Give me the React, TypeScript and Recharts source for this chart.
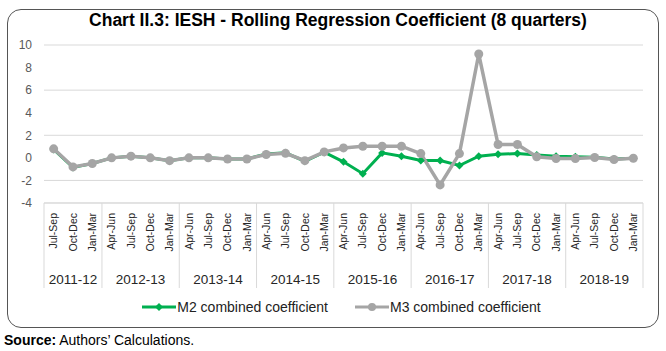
import React from "react";
import { ComposedChart, Line, XAxis, YAxis, CartesianGrid, Legend } from "recharts";

const years = ["2011-12", "2012-13", "2013-14", "2014-15", "2015-16", "2016-17", "2017-18", "2018-19"];
const yearQuarters = [
  ["Jul-Sep", "Oct-Dec", "Jan-Mar"],
  ["Apr-Jun", "Jul-Sep", "Oct-Dec", "Jan-Mar"],
  ["Apr-Jun", "Jul-Sep", "Oct-Dec", "Jan-Mar"],
  ["Apr-Jun", "Jul-Sep", "Oct-Dec", "Jan-Mar"],
  ["Apr-Jun", "Jul-Sep", "Oct-Dec", "Jan-Mar"],
  ["Apr-Jun", "Jul-Sep", "Oct-Dec", "Jan-Mar"],
  ["Apr-Jun", "Jul-Sep", "Oct-Dec", "Jan-Mar"],
  ["Apr-Jun", "Jul-Sep", "Oct-Dec", "Jan-Mar"],
];

const m2 = [
  0.75, -0.85, -0.5, 0.0, 0.15, 0.0, -0.25, 0.0, 0.0, -0.1, -0.1, 0.35, 0.45, -0.3, 0.5,
  -0.35, -1.4, 0.44, 0.15, -0.24, -0.24, -0.68, 0.15, 0.32, 0.38, 0.26, 0.15, 0.1, 0.05, -0.1, -0.03,
];
const m3 = [
  0.8, -0.8, -0.5, 0.0, 0.15, 0.0, -0.25, 0.0, 0.0, -0.1, -0.1, 0.3, 0.4, -0.25, 0.53,
  0.88, 1.03, 1.03, 1.03, 0.38, -2.4, 0.38, 9.2, 1.18, 1.18, 0.09, -0.06, -0.06, 0.03, -0.15, -0.03,
];
const yTicks = [-4, -2, 0, 2, 4, 6, 8, 10];

const GREEN = "#00b050";
const GREY = "#a5a5a5";
const FONT = '"Liberation Sans", Arial, sans-serif';

const rows = yearQuarters
  .flatMap((qs, g) => qs.map((q, pos) => ({ q, year: years[g], pos, len: qs.length })))
  .map((r, i) => ({ ...r, id: i, m2: m2[i], m3: m3[i] }));

function QuarterTick(props: any) {
  const { x, y, payload } = props;
  const row = rows[Number(payload.value)];
  if (!row) return null;
  const half = payload.offset ? payload.offset : 9.66;
  const ty = y + 10;
  return (
    <g>
      <text
        x={x}
        y={ty}
        dy="0.35em"
        transform={`rotate(-90, ${x}, ${ty})`}
        textAnchor="end"
        fontSize={10.5}
        fill="#262626"
        fontFamily={FONT}
      >
        {row.q}
      </text>
      {row.pos === 0 && (
        <>
          <line x1={x - half} x2={x - half} y1={y} y2={y + 85} stroke="#d9d9d9" />
          <text
            x={x - half + row.len * half}
            y={y + 81}
            textAnchor="middle"
            fontSize={13.5}
            fill="#262626"
            fontFamily={FONT}
          >
            {row.year}
          </text>
        </>
      )}
      {row.id === rows.length - 1 && (
        <line x1={x + half} x2={x + half} y1={y} y2={y + 85} stroke="#d9d9d9" />
      )}
    </g>
  );
}

function Diamond(props: any) {
  const { cx, cy } = props;
  if (cx == null || cy == null) return null;
  const s = 4;
  return <polygon points={`${cx},${cy - s} ${cx + s},${cy} ${cx},${cy + s} ${cx - s},${cy}`} fill={GREEN} />;
}

function LegendBox() {
  const item = (color: string, label: string, round: boolean) => (
    <div style={{ display: "flex", alignItems: "center", marginRight: 27 }}>
      <svg width={34} height={12}>
        <line x1={0} x2={34} y1={6} y2={6} stroke={color} strokeWidth={3} />
        {round ? (
          <circle cx={17} cy={6} r={4} fill={color} />
        ) : (
          <polygon points="17,2 21,6 17,10 13,6" fill={color} />
        )}
      </svg>
      <span style={{ fontSize: 14, color: "#222", marginLeft: 1 }}>{label}</span>
    </div>
  );
  return (
    <div style={{ display: "flex", justifyContent: "center", fontFamily: FONT, paddingLeft: 44 }}>
      {item(GREEN, "M2 combined coefficient", false)}
      {item(GREY, "M3 combined coefficient", true)}
    </div>
  );
}

export default function App() {
  return (
    <div
      style={{
        position: "absolute",
        left: 0,
        top: 0,
        width: 666,
        height: 351,
        overflow: "hidden",
        background: "#fff",
        fontFamily: FONT,
      }}
    >
      <div
        style={{
          position: "absolute",
          left: 7,
          top: 9,
          width: 652,
          height: 319,
          border: "1.5px solid #555",
          borderRadius: 14,
          boxSizing: "border-box",
        }}
      />
      <div
        style={{
          position: "absolute",
          top: 10,
          left: 5,
          width: 666,
          textAlign: "center",
          fontSize: 17.5,
          fontWeight: "bold",
          color: "#000",
        }}
      >
        Chart II.3: IESH - Rolling Regression Coefficient (8 quarters)
      </div>
      <div style={{ position: "absolute", left: 0, top: 0 }}>
        <ComposedChart width={666} height={351} data={rows} margin={{ top: 45, right: 23, left: 0, bottom: 0 }}>
          <CartesianGrid vertical={false} stroke="#d9d9d9" />
          <XAxis
            dataKey="id"
            type="category"
            scale="band"
            interval={0}
            height={128}
            tickSize={0}
            tickMargin={0}
            axisLine={{ stroke: "#d9d9d9" }}
            tickLine={false}
            tick={<QuarterTick />}
          />
          <YAxis
            width={44}
            domain={[-4, 10]}
            ticks={yTicks}
            axisLine={false}
            tickLine={false}
            tickSize={0}
            tickMargin={12}
            tick={{ fontSize: 12, fill: "#595959", fontFamily: FONT }}
          />
          <Legend content={<LegendBox />} wrapperStyle={{ top: 299, left: 0, width: 666, height: 20 }} />
          <Line
            dataKey="m2"
            name="M2 combined coefficient"
            stroke={GREEN}
            strokeWidth={3}
            dot={<Diamond />}
            isAnimationActive={false}
          />
          <Line
            dataKey="m3"
            name="M3 combined coefficient"
            stroke={GREY}
            strokeWidth={3.5}
            dot={{ r: 4.5, fill: GREY, stroke: GREY, strokeWidth: 0 }}
            isAnimationActive={false}
          />
        </ComposedChart>
      </div>
      <div style={{ position: "absolute", left: 4, top: 332, fontSize: 14, color: "#000" }}>
        <b>Source:</b> Authors’ Calculations.
      </div>
    </div>
  );
}
